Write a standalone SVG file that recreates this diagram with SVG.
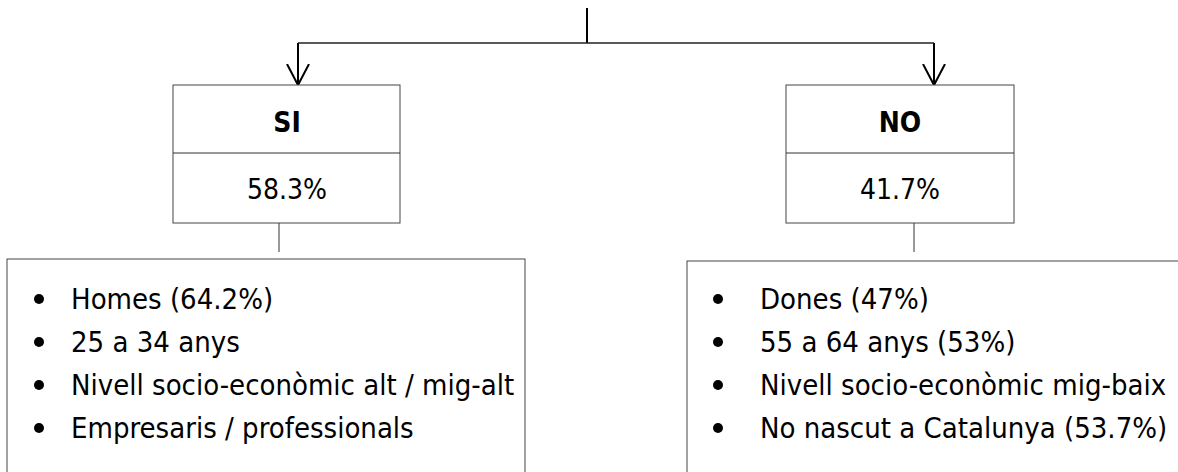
<svg xmlns="http://www.w3.org/2000/svg" width="1178" height="472" viewBox="0 0 1178 472">
<style>
  .box { fill: #fff; stroke: #444; stroke-width: 1; }
  .ln { fill: none; stroke: #333; stroke-width: 1; }
  .conn { fill: none; stroke: #222; stroke-width: 1.5; }
  .arr { fill: none; stroke: #000; stroke-width: 2; }
  .t { font-family: "DejaVu Sans Condensed", "DejaVu Sans", sans-serif; font-size: 29px; fill: #000; }
  .h { font-family: "DejaVu Sans Condensed", "DejaVu Sans", sans-serif; font-size: 28px; font-weight: bold; fill: #000; text-anchor: middle; }
  .p { font-family: "DejaVu Sans Condensed", "DejaVu Sans", sans-serif; font-size: 28px; fill: #000; text-anchor: middle; }
  .b { fill: #000; }
</style>
<defs>
  <marker id="v" markerWidth="26" markerHeight="26" refX="21" refY="12" orient="auto" markerUnits="userSpaceOnUse" viewBox="0 0 26 24">
    <path d="M0,1 L21,12 L0,23" fill="none" stroke="#000" stroke-width="2"/>
  </marker>
</defs>
<g id="connectors">
  <line class="arr" x1="587" y1="8" x2="587" y2="43"/>
  <path class="conn" d="M298,43 H934"/>
  <line class="arr" x1="298" y1="43" x2="298" y2="85" marker-end="url(#v)"/>
  <line class="arr" x1="934" y1="43" x2="934" y2="85" marker-end="url(#v)"/>
  <line class="ln" x1="279" y1="223" x2="279" y2="252"/>
  <line class="ln" x1="914" y1="223" x2="914" y2="252"/>
</g>
<g id="node-si">
  <rect class="box" x="173" y="85" width="227" height="138"/>
  <line class="ln" x1="173" y1="153" x2="400" y2="153"/>
  <text class="h" x="287" y="132">SI</text>
  <text class="p" x="287" y="199">58.3%</text>
</g>
<g id="node-no">
  <rect class="box" x="786" y="85" width="228" height="138"/>
  <line class="ln" x1="786" y1="153" x2="1014" y2="153"/>
  <text class="h" x="900" y="132">NO</text>
  <text class="p" x="900" y="199">41.7%</text>
</g>
<g id="node-si-detail">
  <rect class="box" x="7" y="259" width="518" height="240"/>
  <circle class="b" cx="39" cy="299" r="5"/>
  <text class="t" x="71" y="309">Homes (64.2%)</text>
  <circle class="b" cx="39" cy="342" r="5"/>
  <text class="t" x="71" y="352">25 a 34 anys</text>
  <circle class="b" cx="39" cy="385" r="5"/>
  <text class="t" x="71" y="395">Nivell socio-econòmic alt / mig-alt</text>
  <circle class="b" cx="39" cy="428" r="5"/>
  <text class="t" x="71" y="438">Empresaris / professionals</text>
</g>
<g id="node-no-detail">
  <rect class="box" x="687" y="261" width="520" height="240"/>
  <circle class="b" cx="718" cy="299" r="5"/>
  <text class="t" x="760" y="309">Dones (47%)</text>
  <circle class="b" cx="718" cy="342" r="5"/>
  <text class="t" x="760" y="352">55 a 64 anys (53%)</text>
  <circle class="b" cx="718" cy="385" r="5"/>
  <text class="t" x="760" y="395">Nivell socio-econòmic mig-baix</text>
  <circle class="b" cx="718" cy="428" r="5"/>
  <text class="t" x="760" y="438">No nascut a Catalunya (53.7%)</text>
</g>
</svg>
